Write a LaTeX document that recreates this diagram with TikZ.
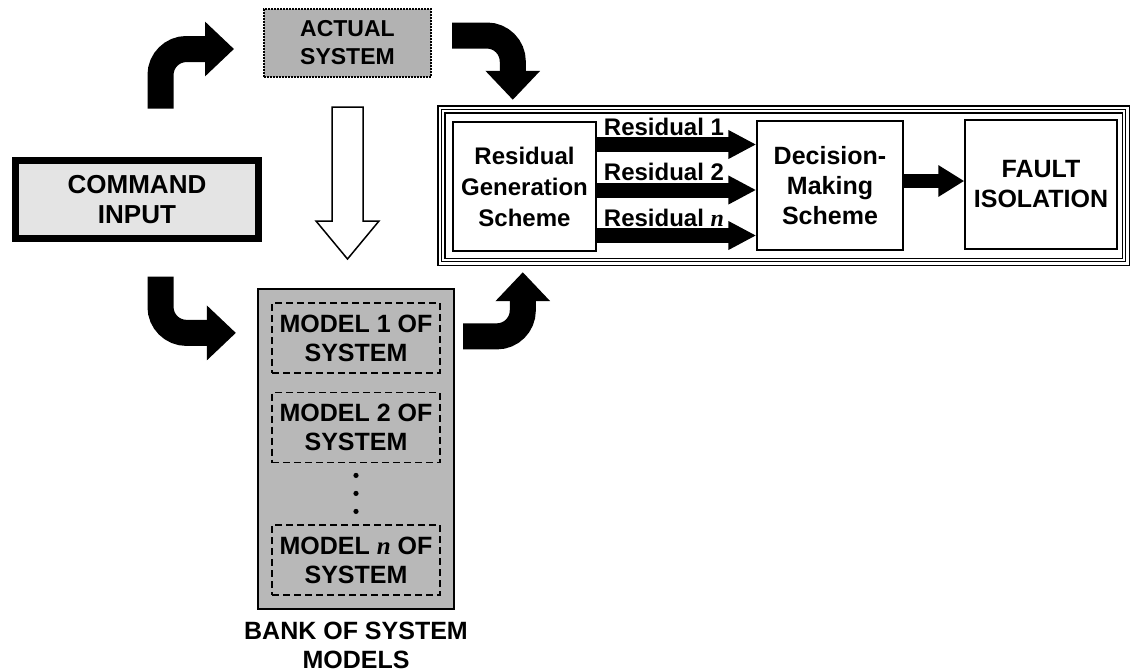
\documentclass[tikz,border=0pt]{standalone}
\usepackage{fontspec}
\setmainfont{Liberation Sans}
\newfontfamily\varfont{Liberation Serif}
\usetikzlibrary{arrows.meta,positioning,calc}

\definecolor{fdPlant}{HTML}{B2B2B2}
\definecolor{fdInput}{HTML}{E4E4E4}
\definecolor{fdBank}{HTML}{B8B8B8}

% italic model index
\newcommand{\nidx}{{\varfont\bfseries\itshape n}}
\newcommand{\fsize}[2]{\fontsize{#1}{#2}\selectfont\bfseries}

\tikzset{
    blocktext/.style={font=\fsize{25}{30}, align=center, inner sep=0pt},
    sysbox/.style={blocktext, draw},
    schemebox/.style={sysbox, line width=1.5pt, fill=white, minimum height=129pt},
    modelbox/.style={sysbox, dash pattern=on 7pt off 4pt, line width=1.8pt, minimum width=168pt, minimum height=70pt, font=\fsize{25}{29}},
    reslabel/.style={blocktext, anchor=base west, font=\fsize{24}{30}},
    % fat bent arrows between the blocks
    bendarrow/.style={line width=26pt, rounded corners=26pt, -{Triangle[length=29pt,width=53pt]}},
    resarrow/.style={line width=15pt, -{Triangle[length=28pt,width=27pt]}},
    hollowarrow/.style={draw, line width=1.5pt, fill=white, line join=miter}
}

\begin{document}
\begin{tikzpicture}[x=1pt,y=-1pt]
\useasboundingbox (0,0) rectangle (1130,672);

% input and real plant
\node[sysbox,line width=7pt,fill=fdInput,minimum width=243pt,minimum height=78pt,font=\fsize{26}{30}] at (137,199.5) (command) {COMMAND\\INPUT};
\node[sysbox,densely dotted,line width=2pt,fill=fdPlant,minimum width=167pt,minimum height=68pt,font=\fsize{23}{28}] at (347.5,43) (actual) {ACTUAL\\SYSTEM};

% bank of models
\node[draw,line width=2.2pt,fill=fdBank,minimum width=196pt,minimum height=320pt,inner sep=0pt] at (356,449) (bank) {};
\node[modelbox] at (356,338) (model1) {MODEL 1 OF\\SYSTEM};
\node[modelbox] at (356,427.5) (model2) {MODEL 2 OF\\SYSTEM};
\node[modelbox] at (356,560) (modeln) {MODEL \nidx{} OF\\SYSTEM};
\foreach \dy in {12,30,48}
    \fill ($(model2.south)+(0,\dy)$) circle (2.6pt);
\node[blocktext,below=12pt of bank,font=\fsize{25}{29}] (banklabel) {BANK OF SYSTEM\\MODELS};

% residual evaluation stage
\node[draw,minimum width=691pt,minimum height=159pt,inner sep=0pt] at (783.5,185.5) (frame) {};
\foreach \d in {0,3.5,7}
    \draw[line width=1.4pt] ($(frame.north west)+(\d,\d)$) rectangle ($(frame.south east)-(\d,\d)$);
\node[schemebox,minimum width=143pt,font=\fsize{24}{31}] at (524.5,186.5) (resgen) {Residual\\Generation\\Scheme};
\node[schemebox,minimum width=146pt] at (830,185.5) (decision) {Decision-\\Making\\Scheme};
\node[schemebox,minimum width=152pt] at (1041,184.5) (fault) {FAULT\\ISOLATION};

\foreach \dy/\k in {-42/1,3.5/2,49/\nidx}{
    \draw[resarrow] ($(resgen.east)+(0,\dy)$) -- ($(decision.west |- resgen.east)+(0,\dy)$);
    \node[reslabel] at ($(resgen.east)+(7,\dy-9.5)$) {Residual \k};
}
\draw[line width=14pt,-{Triangle[length=26pt,width=30pt]}] ($(decision.east)+(0,-4.5)$) -- ($(fault.west |- decision.east)+(0,-4.5)$);

% signal flow
\draw[bendarrow] ($(command.north)+(23.5,-48.5)$) |- ($(actual.west)+(-29,6)$);
\draw[bendarrow] ($(actual.east)+(20,-7.5)$) -| ($(frame.north west)+(75,-6)$);
\draw[bendarrow] ($(command.south)+(23.5,34.5)$) |- ($(bank.north west)+(-21,45)$);
\draw[bendarrow] ($(bank.north east)+(8,48.5)$) -| ($(frame.south west)+(85,7)$);
\draw[hollowarrow] ($(actual.south)+(-15.5,29)$) -- ++(31,0) -- ++(0,114) -- ++(16,0)
    -- ++(-31.5,38) -- ++(-31.5,-38) -- ++(16,0) -- cycle;

\end{tikzpicture}
\end{document}
